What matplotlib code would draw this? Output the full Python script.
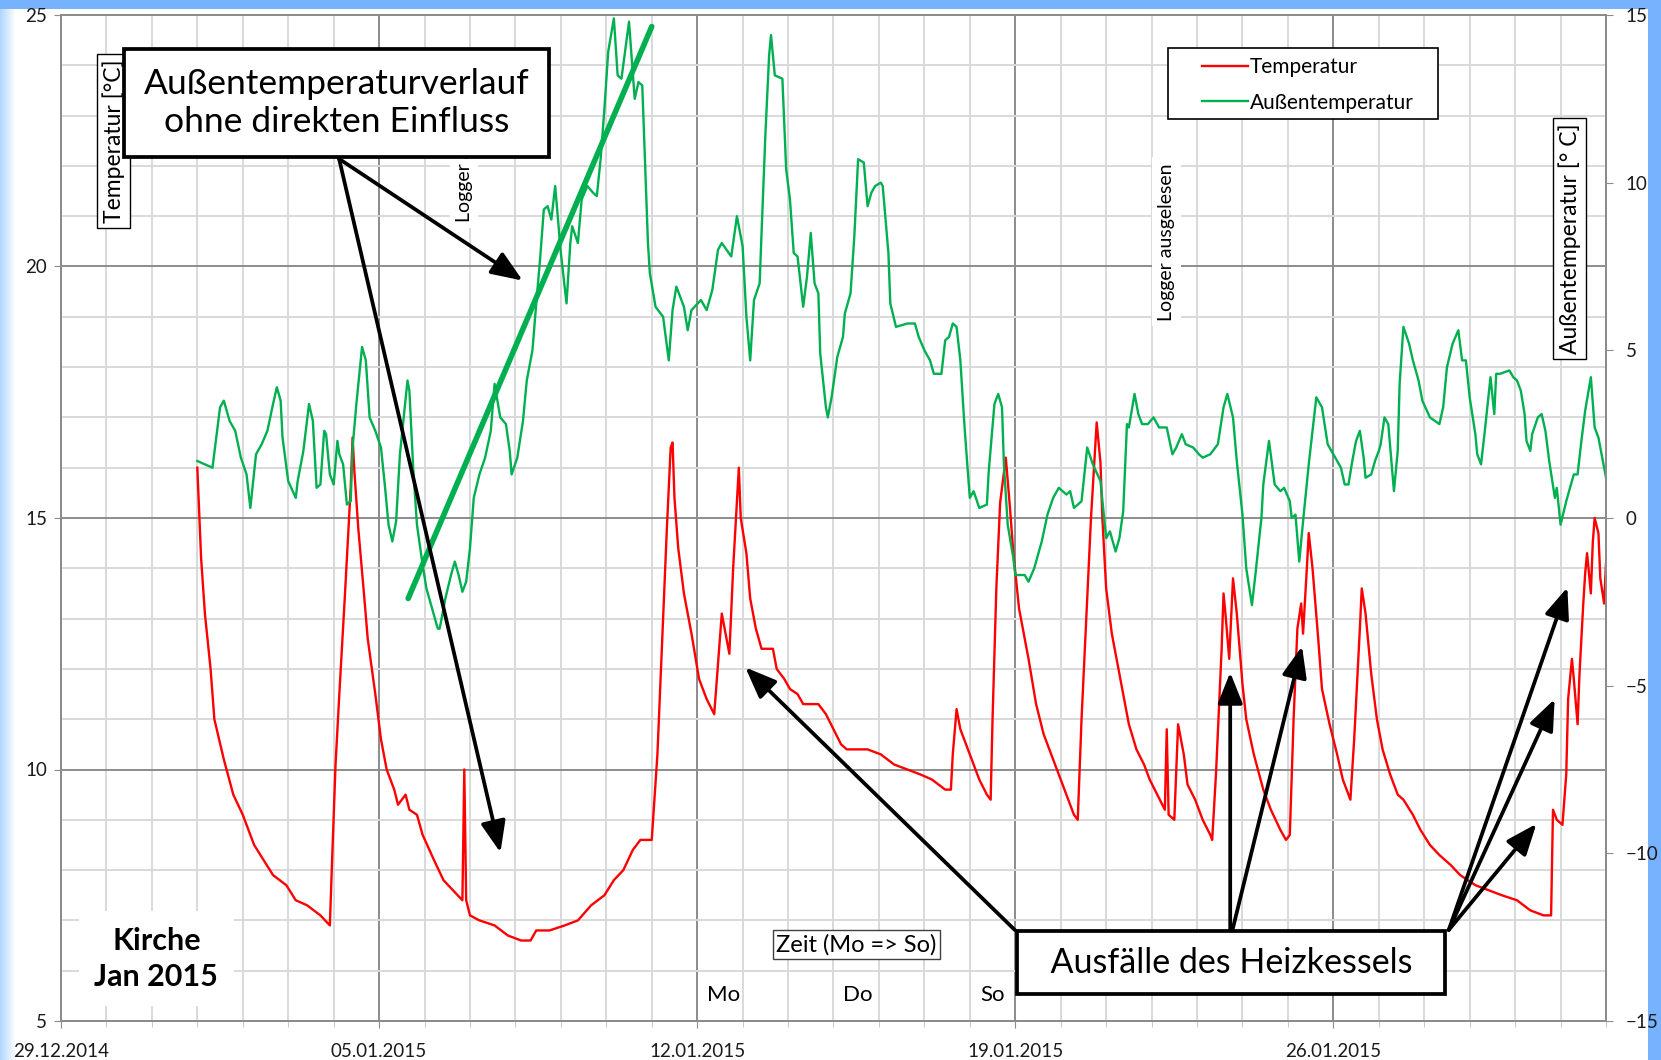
import numpy as np
import pandas as pd
import matplotlib
matplotlib.use('Agg')
import matplotlib.pyplot as plt
import matplotlib.dates as mdates
from matplotlib.patches import Rectangle

plt.rcParams['font.family'] = ['Lato', 'DejaVu Sans']

# Temperatur (Kirche, left axis), hours since 29.12.2014 00:00
red_hours = [72, 73, 74, 76, 79, 81, 86, 91, 96, 102, 107, 112, 119, 124, 130, 137, 142, 143, 145, 147,
             150, 153, 154, 155, 157, 160, 162, 166, 169, 172, 176, 178, 182, 184, 188, 191, 197, 202, 207, 212, 213,
             214, 216, 221, 229, 236, 243, 248, 251, 258, 266, 273, 280, 287, 292, 297, 302, 306, 312, 315, 318,
             320, 322, 323, 324, 326, 329, 333, 337, 341, 345, 347, 349, 351, 353, 355, 358, 359, 362,
             364, 367, 370, 376, 378, 382,
             385, 389, 392, 397, 400, 404, 408, 412, 415, 426, 433, 440, 447, 454, 460, 467, 470,
             471, 473, 475, 481, 485, 489, 491, 492, 494, 496, 499, 501, 503, 506, 511, 515, 519, 525, 530, 535,
             537, 539, 541, 544, 547, 549, 550, 552, 555, 558, 561, 564, 568, 572, 575, 579, 583, 584, 585, 588,
             590, 593, 595, 599, 603, 607, 608, 610, 613, 614, 615, 617, 619, 621, 624, 626, 630, 635, 639, 644,
             647, 649, 651, 653, 655, 656, 658, 659, 661, 664, 666, 670, 674, 677, 681, 683, 686, 687, 689, 692,
             695, 698, 702, 706, 709, 714, 718, 723, 728, 734, 739, 747, 754, 761, 769, 776, 783, 787, 788, 790,
             793, 795, 796, 798, 799, 801, 802, 804, 805, 806, 808, 809, 810, 812, 813, 815, 816]
red_vals = [16.0, 15.1, 14.2, 13.1, 12.0, 11.0, 10.2, 9.5, 9.1, 8.5, 8.2, 7.9, 7.7, 7.4, 7.3, 7.1, 6.9, 8.0, 10.1, 11.5,
            13.5, 15.6, 16.6, 15.9, 14.8, 13.5, 12.6, 11.5, 10.6, 10.0, 9.6, 9.3, 9.5, 9.2, 9.1, 8.7, 8.2, 7.8, 7.6, 7.4, 10.0,
            7.4, 7.1, 7.0, 6.9, 6.7, 6.6, 6.6, 6.8, 6.8, 6.9, 7.0, 7.3, 7.5, 7.8, 8.0, 8.4, 8.6, 8.6, 10.3, 13.0,
            14.8, 16.4, 16.5, 15.4, 14.4, 13.5, 12.7, 11.8, 11.4, 11.1, 12.1, 13.1, 12.7, 12.3, 14.0, 16.0, 15.0, 14.3,
            13.4, 12.8, 12.4, 12.4, 12.0, 11.8,
            11.6, 11.5, 11.3, 11.3, 11.3, 11.1, 10.8, 10.5, 10.4, 10.4, 10.3, 10.1, 10.0, 9.9, 9.8, 9.6, 9.6,
            10.3, 11.2, 10.8, 10.2, 9.8, 9.5, 9.4, 11.0, 13.6, 15.3, 16.2, 15.3, 14.3, 13.2, 12.2, 11.3, 10.7, 10.1, 9.6, 9.1,
            9.0, 11.0, 12.6, 15.0, 16.9, 16.1, 15.0, 13.6, 12.7, 12.1, 11.5, 10.9, 10.4, 10.1, 9.8, 9.5, 9.2, 10.8, 9.1, 9.0,
            10.9, 10.3, 9.7, 9.4, 9.0, 8.7, 8.6, 9.9, 12.4, 13.5, 13.1, 12.2, 13.8, 13.1, 11.7, 11.0, 10.3, 9.6, 9.2, 8.8,
            8.6, 8.7, 11.0, 12.8, 13.3, 12.7, 14.0, 14.7, 14.0, 12.6, 11.6, 10.9, 10.3, 9.8, 9.4, 10.6, 12.8, 13.6, 13.1, 11.9,
            11.0, 10.4, 9.9, 9.5, 9.4, 9.1, 8.8, 8.5, 8.3, 8.1, 7.9, 7.7, 7.6, 7.5, 7.4, 7.2, 7.1, 7.1, 9.2, 9.0,
            8.9, 9.9, 11.4, 12.2, 11.8, 10.9, 11.9, 13.3, 13.9, 14.3, 13.5, 14.5, 15.0, 14.7, 13.8, 13.3, 14.1]

# Außentemperatur (right axis), hours since 29.12.2014 00:00
green_hours = [72, 80, 84, 86, 89, 92, 95, 98, 100, 103, 106, 109, 112, 114, 116, 117, 120, 124, 125, 128,
               131, 133, 135, 137, 139, 140, 142, 144, 146, 147, 149, 151, 153, 154, 156, 159, 161, 163, 166, 169,
               171, 173, 175, 177, 179, 183, 184, 186, 188, 191, 193, 196, 199, 200, 203, 206, 208, 210, 212, 214,
               216, 218, 221, 224, 227, 229, 232, 235, 237, 238, 241, 244, 246, 249, 251, 253, 255, 257, 259, 261,
               264, 267, 269, 270, 273, 275, 278, 281, 283, 285, 287, 289,
               292, 294, 296, 300, 303, 305, 307, 310, 311, 314, 318, 321, 323, 325, 329, 331, 333, 338, 341, 344,
               347, 349, 354, 357, 360, 362, 364, 366, 369, 370, 372, 374, 375, 377, 381, 383, 385, 387, 389,
               392, 394, 396, 398, 400, 401, 404, 405, 407, 410, 413, 414, 417, 419, 421, 424,
               426, 428, 430, 433, 434, 437, 438, 441, 447, 451, 453, 456, 459, 461, 465, 467, 469, 471, 473, 475,
               477, 478, 480, 482, 485, 489, 490, 493, 495, 497, 498, 500, 503, 504, 509, 511, 514, 518, 521, 524,
               527, 531, 533, 535, 539, 542, 545, 549, 552, 554, 557, 559, 561, 563, 564, 567, 569, 571, 574, 577,
               580, 584, 587, 589, 592, 594, 598, 601, 603, 607, 611, 614, 616, 619, 621, 624, 626, 629, 631, 634,
               635, 638, 641, 644, 646, 649, 650, 652, 654, 656, 659, 662, 663, 666, 669, 672, 674, 676, 678, 680,
               682, 684, 686, 688, 689, 692, 694, 696, 697, 699, 701, 704, 706, 707, 709, 712, 714, 717, 719, 723,
               728, 730, 732, 735, 738, 740,
               742, 744, 747, 748, 750, 752, 755, 757, 758, 760, 765, 767, 769, 771, 773, 774, 776, 777, 780, 782,
               784, 786, 789, 790, 792, 795, 797, 799, 801, 803, 805, 808, 810, 812, 814, 816]
green_vals = [1.7, 1.5, 3.3, 3.5, 2.9, 2.6, 1.8, 1.3, 0.3, 1.9, 2.2, 2.6, 3.4, 3.9, 3.5, 2.4, 1.1, 0.6, 1.1, 2.0,
              3.4, 2.9, 0.9, 1.0, 2.6, 2.5, 1.3, 1.0, 2.3, 1.9, 1.6, 0.4, 0.5, 2.1, 3.4, 5.1, 4.7, 3.0, 2.6, 2.1,
              1.0, -0.2, -0.7, -0.1, 1.9, 4.1, 3.8, 1.5, -0.2, -1.4, -2.1, -2.7, -3.3, -3.3, -2.4, -1.7, -1.3, -1.7, -2.2, -1.9,
              -0.9, 0.6, 1.3, 1.8, 2.6, 4.0, 3.0, 2.8, 2.0, 1.3, 1.8, 2.9, 4.1, 5.0, 6.4, 7.7, 9.2, 9.3, 8.9, 9.9,
              7.9, 6.4, 8.2, 8.7, 8.2, 9.5, 9.9, 9.7, 9.6, 10.7, 12.2, 13.9,
              14.9, 13.2, 13.1, 14.8, 12.5, 13.0, 12.9, 8.2, 7.3, 6.3, 6.0, 4.7, 6.2, 6.9, 6.3, 5.6, 6.2, 6.5, 6.2, 6.8,
              8.0, 8.2, 7.8, 9.0, 8.1, 6.0, 4.7, 6.5, 7.0, 8.5, 11.4, 13.8, 14.4, 13.2, 13.1, 10.4, 9.5, 7.9, 7.8,
              6.3, 7.2, 8.5, 7.0, 6.7, 4.9, 3.3, 3.0, 3.6, 4.8, 5.4, 6.1, 6.7, 8.4, 10.7, 10.6,
              9.3, 9.7, 9.9, 10.0, 9.9, 7.9, 6.4, 5.7, 5.8, 5.8, 5.4, 5.0, 4.7, 4.3, 4.3, 5.3, 5.4, 5.8, 5.7, 4.7,
              2.9, 2.1, 0.6, 0.8, 0.3, 0.4, 1.4, 3.4, 3.7, 3.3, 1.6, -0.2, -1.2, -1.7, -1.7, -1.9, -1.5, -0.7, 0.1, 0.6,
              0.9, 0.7, 0.8, 0.3, 0.5, 2.1, 1.6, 1.1, -0.6, -0.4, -1.0, -0.6, 0.2, 2.8, 2.7, 3.7, 3.1, 2.8, 2.8, 3.0,
              2.7, 2.7, 1.9, 2.1, 2.5, 2.2, 2.1, 1.9, 1.8, 1.9, 2.2, 3.3, 3.7, 3.0, 1.7, 0.1, -1.5, -2.6, -1.6, 0.0,
              1.0, 2.3, 1.0, 0.8, 0.9, 0.5, 0.0, 0.1, -1.3, -0.1, 1.6, 3.1, 3.6, 3.3, 2.2, 1.9, 1.7, 1.5, 1.0, 1.0,
              1.7, 2.3, 2.6, 1.8, 1.2, 1.3, 1.7, 2.0, 2.2, 3.0, 2.8, 0.8, 2.0, 4.0, 5.7, 5.2, 4.7, 4.1, 3.5, 3.0,
              2.8, 3.3, 4.5, 5.2, 5.6, 4.7,
              4.7, 3.6, 2.5, 1.9, 1.6, 2.6, 4.2, 3.1, 4.3, 4.3, 4.4, 4.2, 4.1, 3.8, 3.1, 2.3, 2.0, 2.5, 3.0, 3.1,
              2.6, 1.7, 0.6, 0.9, -0.2, 0.5, 0.9, 1.3, 1.3, 2.3, 3.2, 4.2, 2.7, 2.4, 1.8, 1.2]

tick_labels = ['29.12.2014', '05.01.2015', '12.01.2015', '19.01.2015', '26.01.2015']

start = pd.Timestamp('2014-12-29')
t_red = start + pd.to_timedelta(red_hours, unit='h')
t_green = start + pd.to_timedelta(green_hours, unit='h')


def at(d):
    return mdates.date2num(start + pd.Timedelta(days=d))


fig = plt.figure(figsize=(16.61, 10.60), dpi=100)

# blue frame like the original screenshot
bg = fig.add_axes([0, 0, 1, 1], zorder=-5)
bg.axis('off')
H, W = 1060, 1661
img = np.ones((H, W, 3))
blue = np.array([0.47, 0.70, 1.0])
img[:9] = blue
img[:, -13:] = blue
for i, a in enumerate(np.linspace(0.8, 0.0, 16)):
    img[9:, i] = a * np.array([0.62, 0.80, 1.0]) + (1 - a)
bg.imshow(img, aspect='auto', extent=[0, 1, 0, 1], interpolation='bilinear')
bg.set_xlim(0, 1)
bg.set_ylim(0, 1)

ax = fig.add_axes([61 / 1661, 39 / 1060, 1545 / 1661, 1006 / 1060])
ax2 = ax.twinx()

l1, = ax.plot(t_red, red_vals, color='#ff0000', lw=1.7, label='Temperatur')
l2, = ax2.plot(t_green, green_vals, color='#00b050', lw=1.7, label='Außentemperatur')

ax.set_xlim(start, pd.Timestamp('2015-02-01'))
ax.set_ylim(5, 25)
ax2.set_ylim(-15, 15)
ax.set_yticks(np.arange(5, 26, 5))
ax.set_yticks(np.arange(5, 26, 1), minor=True)
ax2.set_yticks(np.arange(-15, 16, 5))
ax.set_xticks(pd.to_datetime(tick_labels, format='%d.%m.%Y'))
ax.set_xticklabels(tick_labels)
ax.set_xticks(pd.date_range('2014-12-29', '2015-02-01', freq='D'), minor=True)

ax.grid(which='major', color='#8c8c8c', lw=1.4)
ax.grid(which='minor', color='#d9d9d9', lw=1.4)
ax.set_axisbelow(True)

for a in (ax, ax2):
    for s in a.spines.values():
        s.set_color('#8c8c8c')
        s.set_linewidth(1.4)
    a.tick_params(which='major', length=5, color='#8c8c8c', labelsize=13.5,
                  labelcolor='#1a1a1a', pad=5)
ax.tick_params(axis='x', which='minor', length=4, color='#bfbfbf')
ax.tick_params(axis='y', which='minor', length=0)
ax.tick_params(axis='x', pad=11)
ax2.tick_params(axis='y', pad=9)

T = ax.transData
arrow = dict(arrowstyle='-|>,head_length=0.95,head_width=0.38', color='black',
             lw=2.7, mutation_scale=20, shrinkA=0, shrinkB=0)

ax2.text(at(8.87), 22.45, 'Logger ausgelesen', transform=T, rotation=90,
         ha='center', va='center', fontsize=14, zorder=3,
         bbox=dict(boxstyle='square,pad=0.3', fc='white', ec='none'))
ax2.text(at(24.33), 20.49, 'Logger ausgelesen', transform=T, rotation=90,
         ha='center', va='center', fontsize=14, zorder=3,
         bbox=dict(boxstyle='square,pad=0.3', fc='white', ec='none'))
ax2.text(at(1.15), 22.5, 'Temperatur [°C]', transform=T, rotation=90,
         ha='center', va='center', fontsize=16.5, zorder=3,
         bbox=dict(boxstyle='square,pad=0.22', fc='white', ec='black', lw=1))
ax2.text(at(33.2), 20.56, 'Außentemperatur [° C]', transform=T, rotation=90,
         ha='center', va='center', fontsize=16.5, zorder=3,
         bbox=dict(boxstyle='square,pad=0.22', fc='white', ec='black', lw=1))

ax2.annotate('', xy=(at(13.0), 24.77), xytext=(at(7.64), 13.40), xycoords=T, textcoords=T,
             arrowprops=dict(arrowstyle='-', color='#00b050', lw=4, shrinkA=0, shrinkB=0), zorder=4)

for d, v in [(10.16, 19.72), (9.67, 8.35)]:
    ax2.annotate('', xy=(at(d), v), xytext=(at(6.12), 22.14), xycoords=T, textcoords=T,
                 arrowprops=arrow, zorder=5)
ax2.text(at(6.07), 23.25, 'Außentemperaturverlauf\nohne direkten Einfluss', transform=T,
         ha='center', va='center', fontsize=25.5, linespacing=1.2, zorder=6,
         bbox=dict(boxstyle='square,pad=0.55', fc='white', ec='black', lw=2.7))

for (d0, d1, v1) in [(20.99, 15.06, 12.03), (25.73, 25.73, 11.93), (25.78, 27.31, 12.45),
                     (30.54, 33.15, 13.62), (30.54, 32.87, 11.40), (30.54, 32.47, 8.92)]:
    ax2.annotate('', xy=(at(d1), v1), xytext=(at(d0), 6.81), xycoords=T, textcoords=T,
                 arrowprops=arrow, zorder=5)
ax2.text(at(25.75), 6.16, '  Ausfälle des Heizkessels  ', transform=T,
         ha='center', va='center', fontsize=24.5, zorder=6,
         bbox=dict(boxstyle='square,pad=0.45', fc='white', ec='black', lw=2.7))

ax2.text(at(2.10), 6.24, 'Kirche\nJan 2015', transform=T, ha='center', va='center',
         fontsize=22, fontweight='bold', linespacing=1.35, zorder=3,
         bbox=dict(boxstyle='square,pad=0.5', fc='white', ec='none'))
ax2.text(at(17.51), 6.52, 'Zeit (Mo => So)', transform=T, ha='center', va='center',
         fontsize=17, zorder=3,
         bbox=dict(boxstyle='square,pad=0.15', fc='white', ec='#404040', lw=1))
for d, s in [(14.59, 'Mo'), (17.53, 'Do'), (20.50, 'So')]:
    ax2.text(at(d), 5.51, s, transform=T, ha='center', va='center', fontsize=16, zorder=3)

# legend frame drawn as in the original (wide side margins)
ax2.add_patch(Rectangle((1168 / 1661, 1 - 119 / 1060), 270 / 1661, 71 / 1060,
                        transform=fig.transFigure, fc='white', ec='black', lw=1.2, zorder=6))
leg = ax2.legend([l1, l2], ['Temperatur', 'Außentemperatur'], loc='upper left',
                 bbox_to_anchor=(1202 / 1661, 1 - 57 / 1060), bbox_transform=fig.transFigure,
                 fontsize=15, frameon=False, handlelength=2.2, handletextpad=0.1,
                 borderpad=0, labelspacing=0.75, borderaxespad=0)
leg.set_zorder(7)

fig.savefig('out.png', dpi=100)
